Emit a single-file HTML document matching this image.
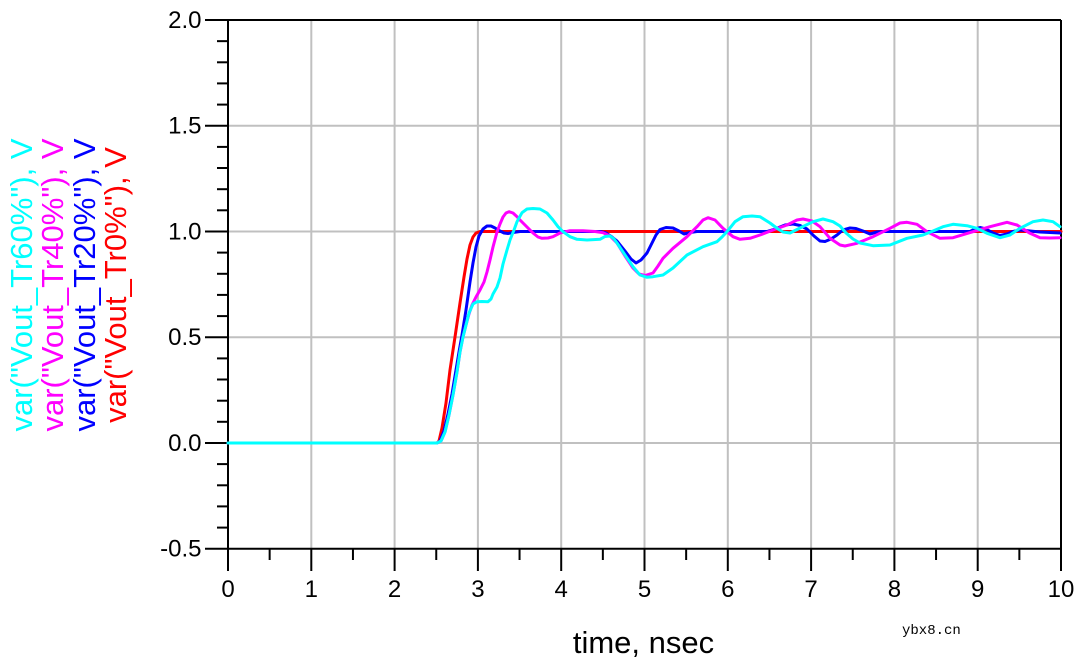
<!DOCTYPE html>
<html>
<head>
<meta charset="utf-8">
<style>
html,body{margin:0;padding:0;background:#fff;}
svg{display:block;}
</style>
</head>
<body>
<svg width="1080" height="660" viewBox="0 0 1080 660" xmlns="http://www.w3.org/2000/svg">
<rect x="0" y="0" width="1080" height="660" fill="#fff"/>
<!-- grid -->
<g stroke="#c0c0c0" stroke-width="2" fill="none">
<line x1="311.3" y1="20" x2="311.3" y2="548.7"/>
<line x1="394.6" y1="20" x2="394.6" y2="548.7"/>
<line x1="477.9" y1="20" x2="477.9" y2="548.7"/>
<line x1="561.2" y1="20" x2="561.2" y2="548.7"/>
<line x1="644.5" y1="20" x2="644.5" y2="548.7"/>
<line x1="727.8" y1="20" x2="727.8" y2="548.7"/>
<line x1="811.1" y1="20" x2="811.1" y2="548.7"/>
<line x1="894.4" y1="20" x2="894.4" y2="548.7"/>
<line x1="977.7" y1="20" x2="977.7" y2="548.7"/>
<line x1="228" y1="125.7" x2="1061" y2="125.7"/>
<line x1="228" y1="231.5" x2="1061" y2="231.5"/>
<line x1="228" y1="337.2" x2="1061" y2="337.2"/>
<line x1="228" y1="443" x2="1061" y2="443"/>
</g>
<!-- axes -->
<g stroke="#000" stroke-width="2" fill="none">
<line x1="205" y1="20" x2="1061" y2="20"/>
<line x1="205" y1="548.7" x2="1061" y2="548.7"/>
<line x1="228" y1="20" x2="228" y2="571"/>
<line x1="1061" y1="20" x2="1061" y2="571"/>
<!-- y major -->
<line x1="205" y1="125.7" x2="228" y2="125.7"/>
<line x1="205" y1="231.5" x2="228" y2="231.5"/>
<line x1="205" y1="337.2" x2="228" y2="337.2"/>
<line x1="205" y1="443" x2="228" y2="443"/>
<!-- y minor -->
<line x1="217" y1="41.15" x2="228" y2="41.15"/>
<line x1="217" y1="62.3" x2="228" y2="62.3"/>
<line x1="217" y1="83.4" x2="228" y2="83.4"/>
<line x1="217" y1="104.6" x2="228" y2="104.6"/>
<line x1="217" y1="146.9" x2="228" y2="146.9"/>
<line x1="217" y1="168" x2="228" y2="168"/>
<line x1="217" y1="189.2" x2="228" y2="189.2"/>
<line x1="217" y1="210.3" x2="228" y2="210.3"/>
<line x1="217" y1="252.6" x2="228" y2="252.6"/>
<line x1="217" y1="273.8" x2="228" y2="273.8"/>
<line x1="217" y1="294.9" x2="228" y2="294.9"/>
<line x1="217" y1="316.1" x2="228" y2="316.1"/>
<line x1="217" y1="358.4" x2="228" y2="358.4"/>
<line x1="217" y1="379.5" x2="228" y2="379.5"/>
<line x1="217" y1="400.7" x2="228" y2="400.7"/>
<line x1="217" y1="421.8" x2="228" y2="421.8"/>
<line x1="217" y1="464.1" x2="228" y2="464.1"/>
<line x1="217" y1="485.3" x2="228" y2="485.3"/>
<line x1="217" y1="506.4" x2="228" y2="506.4"/>
<line x1="217" y1="527.6" x2="228" y2="527.6"/>
<!-- x major -->
<line x1="311.3" y1="548.7" x2="311.3" y2="571"/>
<line x1="394.6" y1="548.7" x2="394.6" y2="571"/>
<line x1="477.9" y1="548.7" x2="477.9" y2="571"/>
<line x1="561.2" y1="548.7" x2="561.2" y2="571"/>
<line x1="644.5" y1="548.7" x2="644.5" y2="571"/>
<line x1="727.8" y1="548.7" x2="727.8" y2="571"/>
<line x1="811.1" y1="548.7" x2="811.1" y2="571"/>
<line x1="894.4" y1="548.7" x2="894.4" y2="571"/>
<line x1="977.7" y1="548.7" x2="977.7" y2="571"/>
<!-- x minor -->
<line x1="269.65" y1="548.7" x2="269.65" y2="560"/>
<line x1="352.95" y1="548.7" x2="352.95" y2="560"/>
<line x1="436.25" y1="548.7" x2="436.25" y2="560"/>
<line x1="519.55" y1="548.7" x2="519.55" y2="560"/>
<line x1="602.85" y1="548.7" x2="602.85" y2="560"/>
<line x1="686.15" y1="548.7" x2="686.15" y2="560"/>
<line x1="769.45" y1="548.7" x2="769.45" y2="560"/>
<line x1="852.75" y1="548.7" x2="852.75" y2="560"/>
<line x1="936.05" y1="548.7" x2="936.05" y2="560"/>
<line x1="1019.35" y1="548.7" x2="1019.35" y2="560"/>
</g>
<!-- tick labels -->
<g font-family="'Liberation Sans', Arial, sans-serif" font-size="24" fill="#000">
<text x="201.5" y="28" text-anchor="end">2.0</text>
<text x="201.5" y="133.7" text-anchor="end">1.5</text>
<text x="201.5" y="239.5" text-anchor="end">1.0</text>
<text x="201.5" y="345.2" text-anchor="end">0.5</text>
<text x="201.5" y="451" text-anchor="end">0.0</text>
<text x="201.5" y="556.7" text-anchor="end">-0.5</text>
<text x="228" y="597" text-anchor="middle">0</text>
<text x="311.3" y="597" text-anchor="middle">1</text>
<text x="394.6" y="597" text-anchor="middle">2</text>
<text x="477.9" y="597" text-anchor="middle">3</text>
<text x="561.2" y="597" text-anchor="middle">4</text>
<text x="644.5" y="597" text-anchor="middle">5</text>
<text x="727.8" y="597" text-anchor="middle">6</text>
<text x="811.1" y="597" text-anchor="middle">7</text>
<text x="894.4" y="597" text-anchor="middle">8</text>
<text x="977.7" y="597" text-anchor="middle">9</text>
<text x="1061" y="597" text-anchor="middle">10</text>
</g>
<text x="643.5" y="653" text-anchor="middle" font-family="'Liberation Sans', Arial, sans-serif" font-size="31" fill="#000">time, nsec</text>
<text x="902" y="634" font-family="'Liberation Mono', monospace" font-size="14" fill="#000">ybx8.cn</text>
<!-- legend -->
<g font-family="'Liberation Sans', Arial, sans-serif" font-size="31" text-anchor="middle">
<text transform="translate(32,285) rotate(-90)" fill="#00ffff">var("Vout_Tr60%"), V</text>
<text transform="translate(63,285) rotate(-90)" fill="#ff00ff">var("Vout_Tr40%"), V</text>
<text transform="translate(95,285) rotate(-90)" fill="#0000ff">var("Vout_Tr20%"), V</text>
<text transform="translate(126,285) rotate(-90)" fill="#ff0000">var("Vout_Tr0%"), V</text>
</g>
<!-- curves -->
<g fill="none" stroke-width="3" stroke-linejoin="round" stroke-linecap="round">
<polyline stroke="#ff0000" points="228,443 437,443 439,441 442,428 446,403 450,370 455,337 460,303 464,277 467,259 470,245 473,237 476,233 480,231.5 1061,231.5"/>
<polyline stroke="#0000ff" points="228,443 437,443 440,441 444,431 448,414 452,394 456,370 459,352 462,335 466,310 470,282 473,263 476,247 479,236 483,229 487,226 491,226 495,228 499,230.5 504,233 508,233.5 513,232.5 520,231.5 600,231.5 606,233 612,237 617,241 625,251 631,259 636,263 641,260 647,253 652,243 656,235 660,229.5 666,227.5 673,228 679,231 684,234 690,232.5 697,231.5 767,231.5 775,229 785,225 793,224 800,225.5 807,229 814,236 820,241 825,241.5 831,239 837,235 843,230 850,228 856,228.5 863,231 870,234 877,232 883,231.5 970,231.5 975,229 980,227.5 986,229 993,233 1000,235.5 1007,234 1013,231.5 1020,230 1030,231 1040,232 1050,232.5 1060,233"/>
<polyline stroke="#ff00ff" points="228,443 437,443 441,441 445,432 449,415 453,395 457,372 460,352 463,337 466,325 469,314 472,305 476,297 480,290 484,282 487,272 490,260 493,247 497,232 500,224 503,217 506,213 509,211.7 513,213 517,216.7 520,220 527,227 533,233 538,237 542,238.3 548,238 553,236.7 560,233 570,230.7 583,230.7 595,231.5 603,232.7 610,236 617,243 625,256 633,268 639,274 645,275.5 653,273 658,266 663,258.3 673,248.3 687,236.7 697,226.7 703,220 708,217.7 715,220 723,228.3 733,236.7 740,239.3 750,238.3 760,235 773,230 787,225 797,220 803,219 812,221 820,226.7 830,238.3 840,245 845,246 857,243.3 873,236.7 890,228.3 900,223 907,222.3 917,224.3 927,231.7 940,238.3 953,237.7 973,231.7 990,226.7 1007,222.3 1017,225 1030,233.3 1040,237.7 1050,238 1060,237.7"/>
<polyline stroke="#00ffff" points="228,443 437,443 441,441 445,432 449,415 453,395 457,372 460,352 463,337 466,325 469,313 473,304 477,301.7 482,301.5 488,301.7 491,299 493,294 497,287 500,278 503,264 507,250 510,240 514,230 517,221.7 522,212.7 527,209 533,208.5 540,209 547,213 553,220 558,226.7 563,231.7 570,236.7 577,239.3 587,240 600,239.3 605,236.5 610,236 614,239 617,243 625,255 633,266.7 640,275 647,277.3 653,276.7 663,275 673,268 687,255 703,246.7 717,241.7 722,237 727,231.7 735,221.7 743,216.7 752,216 760,216.7 770,223 778,229 783,232 790,233 800,228 813,221.7 823,219 833,221.7 840,226 846,233 853,239 860,243 873,245.7 890,245 907,238.3 923,235 933,231 943,226.7 953,224.3 967,225.7 977,228.3 987,233.3 1000,237.7 1010,235 1020,228.3 1033,221.7 1043,220 1053,221.7 1060,226.7"/>
</g>
</svg>
</body>
</html>
